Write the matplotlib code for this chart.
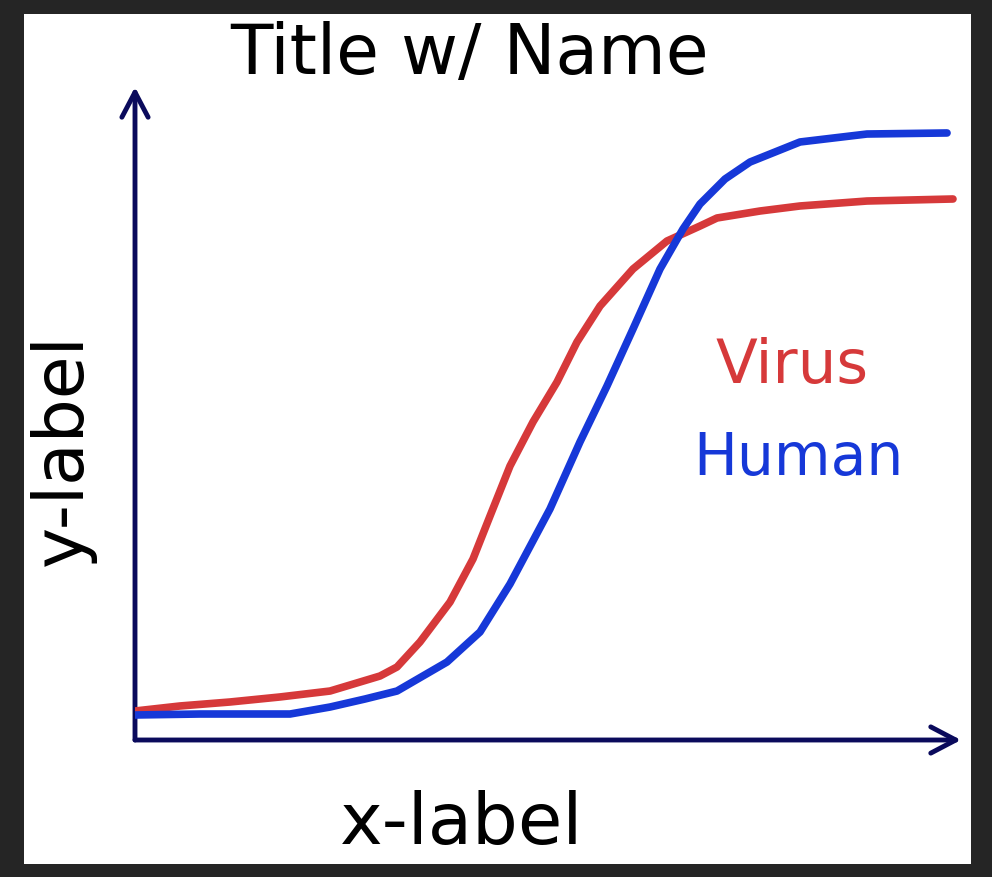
import matplotlib
matplotlib.use("Agg")
import matplotlib.pyplot as plt
from matplotlib.patches import Rectangle

# -----------------------------
# data (axis units 0-100)
# -----------------------------
virus_x = [0, 5.45, 11.50, 17.55, 23.61, 29.66, 31.72, 34.50, 38.14, 40.92,
           42.98, 45.40, 48.18, 51.09, 53.51, 56.30, 60.29, 64.41, 68.40,
           70.46, 75.67, 80.51, 88.62, 99.03]
virus_y = [4.44, 5.21, 5.82, 6.59, 7.50, 9.80, 11.18, 15.01, 21.13, 27.72,
           34.30, 41.96, 48.70, 54.82, 60.95, 66.46, 72.13, 76.42, 78.71,
           79.94, 81.01, 81.78, 82.54, 82.85]

human_x = [0, 7.87, 18.77, 23.61, 27.85, 31.72, 37.77, 41.77, 45.40, 50.24,
           53.87, 57.14, 60.29, 63.56, 66.34, 68.40, 71.43, 74.46, 80.51,
           88.62, 98.31]
human_y = [3.83, 3.98, 3.98, 5.05, 6.28, 7.50, 11.94, 16.54, 23.89, 35.38,
           45.64, 54.21, 62.94, 72.13, 78.25, 82.08, 85.91, 88.51, 91.58,
           92.80, 92.96]

title = "Title w/ Name"
xlabel = "x-label"
ylabel = "y-label"

navy = "#0a0a5c"
red = "#d6393a"
blue = "#1638d8"

W, H = 992, 878
fig = plt.figure(figsize=(W / 100, H / 100), dpi=100, facecolor="#252525")
fig.patches.append(Rectangle((24 / W, 1 - 865 / H), (971 - 24) / W, (865 - 15) / H,
                             transform=fig.transFigure, facecolor="white",
                             edgecolor="none", zorder=-5))

ax = fig.add_axes([135 / W, 1 - 741 / H, (961 - 135) / W, (741 - 88) / H])
ax.set_facecolor("none")
ax.set_xlim(0, 100)
ax.set_ylim(0, 100)
for s in ax.spines.values():
    s.set_visible(False)
ax.set_xticks([])
ax.set_yticks([])

# hand-drawn style axes with arrow heads
arrow = dict(arrowstyle="->,head_length=0.4,head_width=0.21", lw=3.5,
             color=navy, mutation_scale=45, shrinkA=0, shrinkB=0,
             capstyle="round", joinstyle="round")
ax.annotate("", xy=(1, 0), xytext=(0, 0), xycoords="axes fraction",
            arrowprops=arrow)
ax.annotate("", xy=(0, 1), xytext=(0, 0), xycoords="axes fraction",
            arrowprops=arrow)

ax.plot(virus_x, virus_y, color=red, lw=5.5, solid_capstyle="round",
        solid_joinstyle="round", zorder=3)
ax.plot(human_x, human_y, color=blue, lw=5.5, solid_capstyle="round",
        solid_joinstyle="round", zorder=3)

ax.text(79.5, 57.4, "Virus", color=red, fontsize=44, ha="center", va="center")
ax.text(80.3, 43.2, "Human", color=blue, fontsize=42, ha="center", va="center")

fig.text(470 / W, 1 - 55 / H, title, fontsize=50, ha="center", va="center")
fig.text(462 / W, 1 - 825 / H, xlabel, fontsize=52, ha="center", va="center")
fig.text(62 / W, 1 - 450 / H, ylabel, fontsize=50, ha="center", va="center",
         rotation=90)

fig.savefig("out.png", dpi=100, facecolor=fig.get_facecolor())
